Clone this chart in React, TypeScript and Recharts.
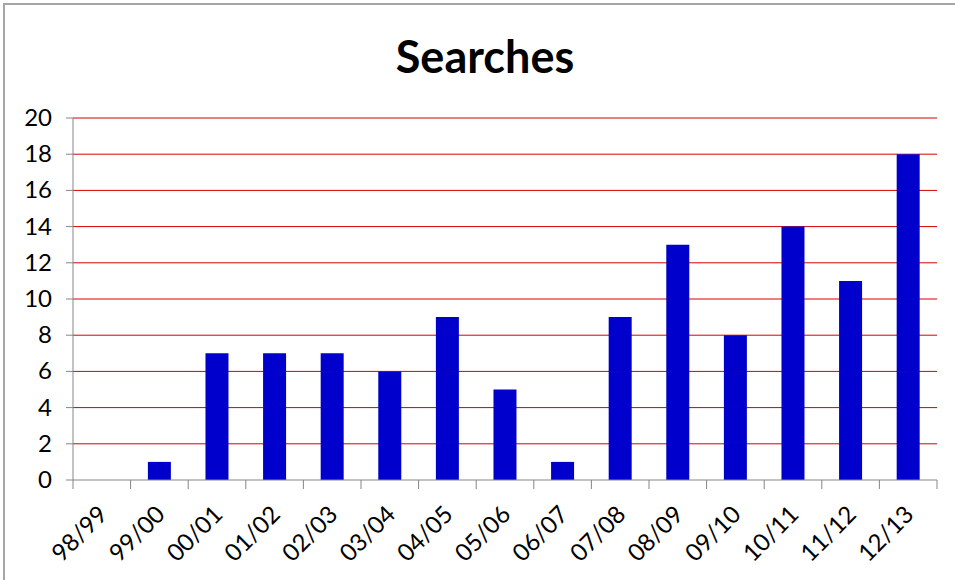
import React from 'react';
import { BarChart, Bar, XAxis, YAxis, CartesianGrid } from 'recharts';

const categories = ['98/99', '99/00', '00/01', '01/02', '02/03', '03/04', '04/05', '05/06', '06/07', '07/08', '08/09', '09/10', '10/11', '11/12', '12/13'];
const searches = [0, 1, 7, 7, 7, 6, 9, 5, 1, 9, 13, 8, 14, 11, 18];
const yTicks = [0, 2, 4, 6, 8, 10, 12, 14, 16, 18, 20];

const data = categories.map((c, i) => ({ name: c, value: searches[i] }));

const FONT = 'Lato, "Open Sans", sans-serif';
const AXIS = '#868686';

const XTick = (props: any) => {
  const { x, y, payload, index, visibleTicksCount } = props;
  const off = payload.offset || 0;
  const isLast = index === visibleTicksCount - 1;
  const ax = x + 7;
  const ay = y + 28;
  return (
    <g>
      <line x1={x - off} y1={y - 8} x2={x - off} y2={y + 1} stroke={AXIS} strokeWidth={1} />
      {isLast && <line x1={x + off} y1={y - 8} x2={x + off} y2={y + 1} stroke={AXIS} strokeWidth={1} />}
      <text
        x={ax}
        y={ay}
        textAnchor="end"
        transform={`rotate(-45, ${ax}, ${ay})`}
        fontFamily={FONT}
        fontSize={24}
        fill="#000"
      >
        {payload.value}
      </text>
    </g>
  );
};

const YTick = (props: any) => {
  const { x, y, payload } = props;
  return (
    <text x={x} y={y} dy={8} textAnchor="end" fontFamily={FONT} fontSize={24} fill="#000">
      {payload.value}
    </text>
  );
};

export default function App() {
  return (
    <div style={{ position: 'absolute', left: 0, top: 0, width: 955, height: 580, overflow: 'hidden', background: '#fff' }}>
      <div style={{ position: 'absolute', left: 3, top: 3, width: 1000, height: 1000, border: '2px solid #A6A6A6', boxSizing: 'border-box' }} />
      <div style={{ position: 'absolute', left: 0, top: 0 }}>
        <BarChart
          width={955}
          height={580}
          data={data}
          margin={{ top: 118, right: 18, bottom: 20, left: 0 }}
          barCategoryGap="30%"
        >
          <text x={485} y={73} textAnchor="middle" fontFamily={FONT} fontWeight="bold" fontSize={45} fill="#000">
            Searches
          </text>
          <CartesianGrid vertical={false} stroke="#D40000" strokeWidth={1} horizontalValues={yTicks.filter(v => v > 0)} />
          <XAxis
            dataKey="name"
            interval={0}
            height={80}
            axisLine={{ stroke: AXIS }}
            tickLine={false}
            tick={<XTick />}
          />
          <YAxis
            domain={[0, 20]}
            ticks={yTicks}
            width={73}
            axisLine={{ stroke: AXIS }}
            tickLine={{ stroke: AXIS }}
            tickSize={7}
            tickMargin={14}
            tick={<YTick />}
            interval={0}
          />
          <Bar dataKey="value" fill="#0000CC" isAnimationActive={false} />
        </BarChart>
      </div>
    </div>
  );
}
